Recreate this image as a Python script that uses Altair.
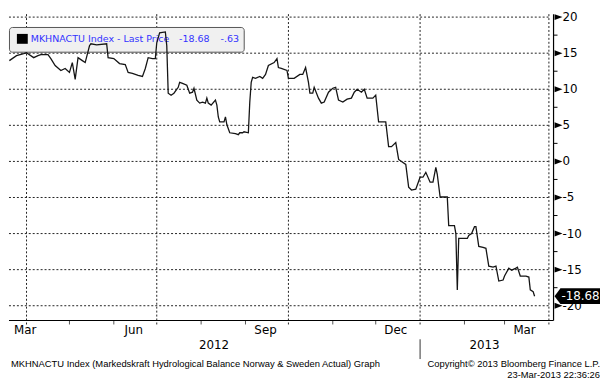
import altair as alt
import pandas as pd

# ---------------- data ----------------
dates = [
    "2012-03-20", "2012-03-25", "2012-03-30", "2012-04-01", "2012-04-02", "2012-04-06",
    "2012-04-09", "2012-04-11", "2012-04-16", "2012-04-18", "2012-04-21", "2012-04-25",
    "2012-04-28", "2012-05-01", "2012-05-03", "2012-05-05", "2012-05-07", "2012-05-10",
    "2012-05-12", "2012-05-15", "2012-05-16", "2012-05-20", "2012-05-27", "2012-05-28",
    "2012-06-01", "2012-06-05", "2012-06-09", "2012-06-11", "2012-06-14", "2012-06-18",
    "2012-06-21", "2012-06-23", "2012-06-25", "2012-06-28", "2012-06-30", "2012-07-01",
    "2012-07-03", "2012-07-07", "2012-07-08", "2012-07-09", "2012-07-11", "2012-07-13",
    "2012-07-16", "2012-07-17", "2012-07-19", "2012-07-22", "2012-07-24", "2012-07-26",
    "2012-07-27", "2012-07-29", "2012-07-31", "2012-08-02", "2012-08-04", "2012-08-05",
    "2012-08-06", "2012-08-08", "2012-08-11", "2012-08-12", "2012-08-13", "2012-08-14",
    "2012-08-17", "2012-08-18", "2012-08-19", "2012-08-21", "2012-08-25", "2012-08-27",
    "2012-08-28", "2012-08-30", "2012-08-31", "2012-09-03", "2012-09-04", "2012-09-05",
    "2012-09-06", "2012-09-08", "2012-09-11", "2012-09-13", "2012-09-15", "2012-09-17",
    "2012-09-21", "2012-09-23", "2012-09-24", "2012-09-26", "2012-09-30", "2012-10-01",
    "2012-10-05", "2012-10-09", "2012-10-11", "2012-10-13", "2012-10-15", "2012-10-16",
    "2012-10-18", "2012-10-19", "2012-10-22", "2012-10-24", "2012-10-26", "2012-10-29",
    "2012-11-01", "2012-11-03", "2012-11-05", "2012-11-08", "2012-11-11", "2012-11-14",
    "2012-11-16", "2012-11-18", "2012-11-21", "2012-11-23", "2012-11-25", "2012-11-29",
    "2012-12-01", "2012-12-03", "2012-12-08", "2012-12-10", "2012-12-12", "2012-12-15",
    "2012-12-17", "2012-12-19", "2012-12-22", "2012-12-24", "2012-12-26", "2012-12-29",
    "2012-12-31", "2013-01-01", "2013-01-03", "2013-01-05", "2013-01-08", "2013-01-10",
    "2013-01-12", "2013-01-13", "2013-01-15", "2013-01-20", "2013-01-21", "2013-01-25",
    "2013-01-26", "2013-01-27", "2013-01-28", "2013-02-03", "2013-02-04", "2013-02-06",
    "2013-02-08", "2013-02-09", "2013-02-11", "2013-02-14", "2013-02-16", "2013-02-18",
    "2013-02-21", "2013-02-23", "2013-02-25", "2013-02-28", "2013-03-01", "2013-03-04",
    "2013-03-06", "2013-03-09", "2013-03-10", "2013-03-12", "2013-03-16", "2013-03-18",
    "2013-03-19", "2013-03-21", "2013-03-22",
]
values = [
    13.97, 14.66, 14.93, 15.07, 14.93, 14.38,
    14.66, 14.79, 14.79, 14.25, 13.29, 12.60,
    12.88, 12.33, 13.70, 11.37, 14.38, 13.97,
    13.70, 16.03, 16.30, 16.16, 16.30, 14.38,
    14.25, 13.56, 13.42, 12.33, 12.19, 11.92,
    11.78, 12.88, 14.38, 14.25, 14.25, 16.44,
    17.81, 17.95, 16.03, 9.45, 9.18, 9.45,
    10.27, 10.96, 10.82, 10.55, 9.45, 9.59,
    10.14, 8.49, 8.08, 8.22, 8.08, 8.77,
    8.08, 7.81, 8.49, 7.81, 6.16, 5.48,
    5.48, 6.16, 5.07, 3.97, 3.84, 3.70,
    3.97, 3.97, 4.11, 3.97, 8.22, 10.96,
    11.64, 11.51, 11.78, 11.51, 12.05, 13.29,
    13.70, 14.25, 13.01, 12.88, 12.60, 11.51,
    11.51, 12.05, 12.05, 13.01, 10.96, 9.45,
    9.45, 10.27, 8.77, 8.08, 8.22, 9.59,
    10.14, 10.27, 8.49, 8.22, 8.63, 8.77,
    9.59, 10.00, 9.59, 10.00, 8.77, 8.77,
    9.18, 5.48, 5.48, 2.05, 2.05, 2.60,
    0.27, 0.00, -0.41, -3.56, -3.97, -3.84,
    -2.74, -2.19, -2.19, -1.51, -2.88, -2.88,
    -0.82, -1.78, -4.93, -4.93, -8.90, -8.90,
    -10.00, -17.81, -10.68, -10.68, -10.27, -10.00,
    -9.04, -9.04, -11.78, -11.92, -12.05, -14.52,
    -14.66, -14.52, -16.58, -16.44, -15.89, -14.79,
    -15.07, -14.79, -14.66, -15.89, -15.89, -16.03,
    -17.81, -18.05, -18.68,
]

y_major = [-20, -15, -10, -5, 0, 5, 10, 15, 20]
y_major_labels = ["-20", "-15", "-10", "-5", "0", "5", "10", "15", "20"]
y_minor = [-17.5, -12.5, -7.5, -2.5, 2.5, 7.5, 12.5, 17.5]
quarter_dates = ["2012-04-01", "2012-07-01", "2012-10-01", "2013-01-01", "2013-04-01"]
month_dates = ["2012-05-01", "2012-06-01", "2012-08-01", "2012-09-01",
               "2012-11-01", "2012-12-01", "2013-02-01", "2013-03-01"]
month_labels = ["Mar", "Jun", "Sep", "Dec", "Mar"]
month_label_dates = ["2012-03-31", "2012-06-15", "2012-09-15", "2012-12-15", "2013-03-15"]
year_labels = ["2012", "2013"]
year_label_dates = ["2012-08-10", "2013-02-15"]
year_break = ["2013-01-01"]

legend_name = "MKHNACTU Index - Last Price"
last_label = "-18.68"
change_label = "-.63"
footer_left = "MKHNACTU Index (Markedskraft Hydrological Balance Norway & Sweden Actual) Graph"
footer_copy = "Copyright\u00a9 2013 Bloomberg Finance L.P."
footer_stamp = "23-Mar-2013 22:36:26"

# ---------------- layout ----------------
W, H = 551, 310
FONT = "DejaVu Sans"
BLUE = "#3333ff"

xscale = alt.Scale(
    type="utc",
    domain=[alt.DateTime(year=2012, month=3, date=19, hours=18, utc=True),
            alt.DateTime(year=2013, month=4, date=4, hours=6, utc=True)],
)
yscale = alt.Scale(domain=[-22.05, 20.41], zero=False, nice=False)


def X(f):
    return alt.X(f"{f}:T", scale=xscale, axis=None)


def Y(f):
    return alt.Y(f"{f}:Q", scale=yscale, axis=None)


series = pd.DataFrame({"date": dates, "value": values})
ymaj = pd.DataFrame({"v": y_major, "label": y_major_labels})
ymin = pd.DataFrame({"v": y_minor})
qdf = pd.DataFrame({"d": quarter_dates})
mdf = pd.DataFrame({"d": month_dates})
mldf = pd.DataFrame({"d": month_label_dates, "label": month_labels})
yldf = pd.DataFrame({"d": year_label_dates, "label": year_labels})
ybdf = pd.DataFrame({"d": year_break})
lastdf = pd.DataFrame({"value": [values[-1]], "label": [last_label]})
one = pd.DataFrame({"k": [0]})

legend_box = alt.Chart(one).mark_rect(
    fill="#f0f0f0", stroke="#555555", strokeWidth=1, cornerRadius=3
).encode(x=alt.value(0.5), x2=alt.value(238), y=alt.value(13.5), y2=alt.value(38.5))
legend_sq = alt.Chart(one).mark_rect(fill="black").encode(
    x=alt.value(8), x2=alt.value(19), y=alt.value(20), y2=alt.value(30))


def legend_text(txt, xpos):
    return alt.Chart(one).mark_text(
        align="left", baseline="middle", font=FONT, fontSize=9.6, color=BLUE
    ).encode(x=alt.value(xpos), y=alt.value(25.5), text=alt.value(txt))


hgrid = alt.Chart(ymaj).mark_rule(strokeDash=[2, 2], color="#222222", strokeWidth=1).encode(
    y=Y("v"), x=alt.value(0), x2=alt.value(W - 4))
vgrid = alt.Chart(qdf).mark_rule(strokeDash=[2, 2], color="#222222", strokeWidth=1).encode(
    x=X("d"), y=alt.value(0), y2=alt.value(H + 4))
xminor = alt.Chart(mdf).mark_rule(color="#555555", strokeWidth=1).encode(
    x=X("d"), y=alt.value(H), y2=alt.value(H + 4))
xaxis = alt.Chart(one).mark_rule(color="black", strokeWidth=1.2).encode(
    x=alt.value(0), x2=alt.value(W), y=alt.value(H))
yaxis = alt.Chart(one).mark_rule(color="black", strokeWidth=1.2).encode(
    x=alt.value(W), y=alt.value(0), y2=alt.value(H))

line = alt.Chart(series).mark_line(color="#151515", strokeWidth=1.3, clip=True).encode(
    x=X("date"), y=Y("value"))

ylabels = alt.Chart(ymaj).mark_text(
    align="left", baseline="middle", font=FONT, fontSize=12, color="black"
).encode(y=Y("v"), x=alt.value(W + 9), text="label:N")
ytri = alt.Chart(ymaj).mark_point(
    shape="M-1,-0.75L1,0L-1,0.75Z", filled=True, size=64, color="black", opacity=1
).encode(y=Y("v"), x=alt.value(W + 5))
yminor = alt.Chart(ymin).mark_rule(color="black", strokeWidth=1).encode(
    y=Y("v"), x=alt.value(W), x2=alt.value(W + 4))

mlabels = alt.Chart(mldf).mark_text(
    align="center", baseline="middle", font=FONT, fontSize=12, color="black"
).encode(x=X("d"), y=alt.value(H + 10), text="label:N")
ylab = alt.Chart(yldf).mark_text(
    align="center", baseline="middle", font=FONT, fontSize=12, color="black"
).encode(x=X("d"), y=alt.value(H + 25), text="label:N")
ybreak = alt.Chart(ybdf).mark_rule(color="#333333", strokeWidth=1).encode(
    x=X("d"), y=alt.value(H + 19), y2=alt.value(H + 39))


def footer(txt, xpos, ypos, align):
    return alt.Chart(one).mark_text(
        align=align, baseline="middle", font="Liberation Sans", fontSize=9.5, color="black"
    ).encode(x=alt.value(xpos), y=alt.value(ypos), text=alt.value(txt))


callout = alt.Chart(lastdf).mark_point(
    shape="M0,0L0.75,-1L5.75,-1L5.75,1L0.75,1Z", filled=True, size=256, color="black", opacity=1
).encode(x=alt.value(W + 1), y=Y("value"))
callout_text = alt.Chart(lastdf).mark_text(
    align="left", baseline="middle", font=FONT, fontSize=12, color="white"
).encode(x=alt.value(W + 8), y=Y("value"), text="label:N")

chart = alt.layer(
    hgrid, vgrid, xminor, legend_box, legend_sq,
    legend_text(legend_name, 22), legend_text(last_label, 172), legend_text(change_label, 214),
    line, xaxis, yaxis, yminor, ytri, ylabels,
    mlabels, ylab, ybreak,
    footer(footer_left, 2, H + 44, "left"),
    footer(footer_copy, 598, H + 44, "right"),
    footer(footer_stamp, 598, H + 55, "right"),
    callout, callout_text,
).properties(
    width=W, height=H, padding=0, background="white"
).configure_view(stroke=None)

chart.save("out.html", embed_options={"renderer": "svg", "actions": False})
